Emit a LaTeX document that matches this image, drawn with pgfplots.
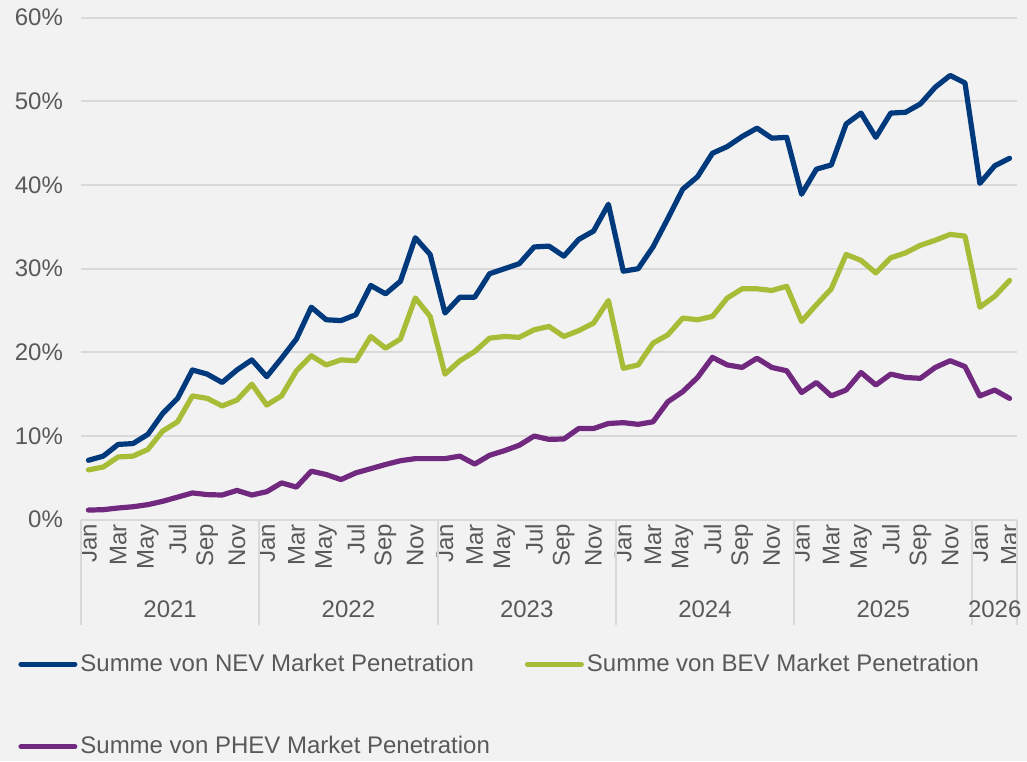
\documentclass[border=0pt]{standalone}
\usepackage{fontspec}
\setmainfont{Liberation Sans}
\usepackage{pgfplots}
\usepackage{pgfplotstable}
\pgfplotsset{compat=1.18}
\definecolor{nev}{HTML}{003A7D}
\definecolor{bev}{HTML}{A9BC37}
\definecolor{phev}{HTML}{71287F}
\definecolor{bgc}{HTML}{F2F2F2}
\definecolor{gridc}{HTML}{D9D9D9}
\definecolor{txt}{HTML}{595959}
\pgfplotstableread{
i nev bev phev
0 7.1 5.95 1.15
1 7.6 6.3 1.2
2 9.0 7.5 1.4
3 9.1 7.6 1.55
4 10.2 8.4 1.8
5 12.7 10.6 2.2
6 14.5 11.7 2.7
7 17.9 14.8 3.2
8 17.4 14.5 3.0
9 16.4 13.6 2.95
10 17.9 14.3 3.5
11 19.1 16.2 2.95
12 17.1 13.7 3.35
13 19.3 14.8 4.4
14 21.6 17.8 3.9
15 25.4 19.6 5.8
16 23.9 18.5 5.4
17 23.8 19.1 4.8
18 24.5 19.0 5.6
19 28.0 21.9 6.1
20 27.0 20.5 6.6
21 28.5 21.6 7.05
22 33.7 26.5 7.3
23 31.7 24.3 7.3
24 24.7 17.4 7.3
25 26.6 19.0 7.6
26 26.6 20.1 6.65
27 29.4 21.7 7.7
28 30.0 21.9 8.25
29 30.6 21.8 8.9
30 32.6 22.7 10.0
31 32.7 23.1 9.6
32 31.5 21.9 9.65
33 33.5 22.6 10.9
34 34.5 23.5 10.9
35 37.7 26.2 11.5
36 29.7 18.1 11.6
37 30.0 18.5 11.4
38 32.6 21.1 11.7
39 36.0 22.1 14.1
40 39.5 24.1 15.3
41 41.0 23.9 17.0
42 43.8 24.3 19.4
43 44.6 26.5 18.5
44 45.8 27.6 18.2
45 46.8 27.6 19.3
46 45.6 27.4 18.2
47 45.7 27.9 17.8
48 38.9 23.7 15.2
49 41.9 25.7 16.4
50 42.4 27.6 14.8
51 47.3 31.7 15.5
52 48.6 31.0 17.6
53 45.7 29.5 16.1
54 48.6 31.3 17.4
55 48.7 31.9 17.0
56 49.7 32.8 16.9
57 51.7 33.4 18.2
58 53.1 34.1 19.0
59 52.2 33.9 18.3
60 40.2 25.4 14.8
61 42.3 26.7 15.5
62 43.2 28.6 14.5
}\datatable
\begin{document}
\begin{tikzpicture}[font=\fontsize{12}{14.4}\selectfont]
\fill[bgc] (-40.5pt,-120.65pt) rectangle (473pt,259.85pt);
\begin{axis}[
  at={(0,0)}, anchor=south west,
  width=468pt, height=251pt, scale only axis,
  xmin=-0.5, xmax=62.5, ymin=0, ymax=60,
  clip=false,
  axis lines*=left,
  y axis line style={draw=none},
  x axis line style={gridc, line width=1pt},
  ymajorgrids, major grid style={gridc, line width=1pt},
  major tick length=0pt,
  tick style={draw=none},
  xtick={0,2,...,62},
  xticklabels={Jan,Mar,May,Jul,Sep,Nov,Jan,Mar,May,Jul,Sep,Nov,Jan,Mar,May,Jul,Sep,Nov,Jan,Mar,May,Jul,Sep,Nov,Jan,Mar,May,Jul,Sep,Nov,Jan,Mar},
  xticklabel style={rotate=90, anchor=east, text=txt, inner sep=2pt},
  ytick={0,10,...,60},
  yticklabels={0\%,10\%,20\%,30\%,40\%,50\%,60\%},
  yticklabel style={text=txt, xshift=-5.5pt},
  legend columns=2,
  legend cell align=left,
  legend image code/.code={\draw[#1, line width=2.5pt, line cap=round] (0pt,0pt) -- (27pt,0pt);},
  legend style={at={(axis description cs:0,0)}, anchor=north west, xshift=-34.5pt, yshift=-63.5pt,
    draw=none, fill=none, text=txt, row sep=28pt,
    nodes={inner sep=1.5pt},
    /tikz/every even column/.append style={column sep=16pt}},
  every axis plot/.append style={line width=2.6pt, line join=round, line cap=round},
]
\addplot[nev] table[x=i, y=nev] {\datatable};
\addlegendentry{Summe von NEV Market Penetration}
\addplot[bev] table[x=i, y=bev] {\datatable};
\addlegendentry{Summe von BEV Market Penetration}
\addplot[phev] table[x=i, y=phev] {\datatable};
\addlegendentry{Summe von PHEV Market Penetration}
\draw[gridc, line width=1pt] (axis cs:-0.5,0) -- ([yshift=-52.5pt]axis cs:-0.5,0);
\draw[gridc, line width=1pt] (axis cs:11.5,0) -- ([yshift=-52.5pt]axis cs:11.5,0);
\draw[gridc, line width=1pt] (axis cs:23.5,0) -- ([yshift=-52.5pt]axis cs:23.5,0);
\draw[gridc, line width=1pt] (axis cs:35.5,0) -- ([yshift=-52.5pt]axis cs:35.5,0);
\draw[gridc, line width=1pt] (axis cs:47.5,0) -- ([yshift=-52.5pt]axis cs:47.5,0);
\draw[gridc, line width=1pt] (axis cs:59.5,0) -- ([yshift=-52.5pt]axis cs:59.5,0);
\draw[gridc, line width=1pt] (axis cs:62.5,0) -- ([yshift=-52.5pt]axis cs:62.5,0);
\node[text=txt] at ([yshift=-45pt]axis cs:5.5,0) {2021};
\node[text=txt] at ([yshift=-45pt]axis cs:17.5,0) {2022};
\node[text=txt] at ([yshift=-45pt]axis cs:29.5,0) {2023};
\node[text=txt] at ([yshift=-45pt]axis cs:41.5,0) {2024};
\node[text=txt] at ([yshift=-45pt]axis cs:53.5,0) {2025};
\node[text=txt] at ([yshift=-45pt]axis cs:61,0) {2026};
\end{axis}
\pgfresetboundingbox
\path[use as bounding box] (-40.5pt,-120.65pt) rectangle (473pt,259.85pt);
\end{tikzpicture}
\end{document}
